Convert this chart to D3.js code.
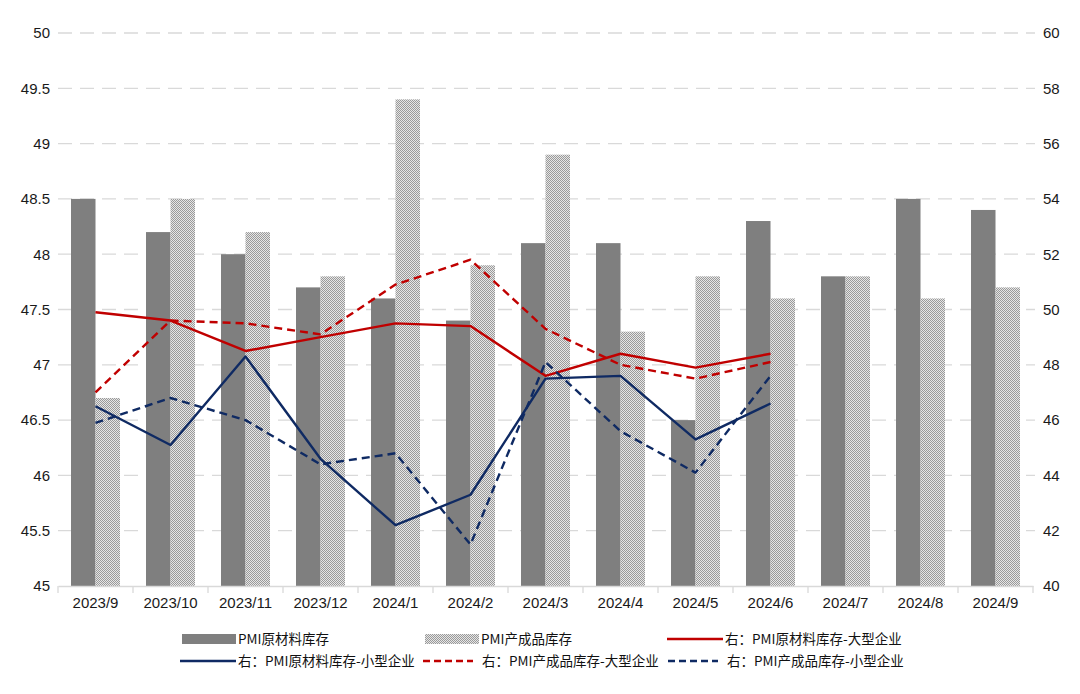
<!DOCTYPE html>
<html><head><meta charset="utf-8">
<script src="https://cdn.jsdelivr.net/npm/d3@7"></script>
<style>body{margin:0;background:#fff}svg{display:block}</style>
</head><body><svg id="c" width="1080" height="694"></svg>
<script>
const categories = ["2023/9","2023/10","2023/11","2023/12","2024/1","2024/2","2024/3","2024/4","2024/5","2024/6","2024/7","2024/8","2024/9"];
const rawMaterial = [48.5,48.2,48.0,47.7,47.6,47.4,48.1,48.1,46.5,48.3,47.8,48.5,48.4];
const finishedGoods = [46.7,48.5,48.2,47.8,49.4,47.9,48.9,47.3,47.8,47.6,47.8,47.6,47.7];
const rawLarge = [49.9,49.6,48.5,49.0,49.5,49.4,47.6,48.4,47.9,48.4];
const rawSmall = [46.5,45.1,48.3,44.6,42.2,43.3,47.5,47.6,45.3,46.6];
const finLarge = [47.0,49.6,49.5,49.1,50.9,51.8,49.3,48.0,47.5,48.1];
const finSmall = [45.9,46.8,46.0,44.4,44.8,41.5,48.1,45.6,44.1,47.6];
const leftTicks = [45,45.5,46,46.5,47,47.5,48,48.5,49,49.5,50];
const rightTicks = [40,42,44,46,48,50,52,54,56,58,60];
const legendLabels = ["PMI原材料库存","PMI产成品库存","右：PMI原材料库存-大型企业","右：PMI原材料库存-小型企业","右：PMI产成品库存-大型企业","右：PMI产成品库存-小型企业"];

const RED = "#c00000", NAVY = "#0f2a63";
const FONT = "'Liberation Sans',Arial,'Noto Sans CJK SC',sans-serif";
const CJK = "'Noto Sans CJK SC','Liberation Sans',sans-serif";
const svg = d3.select("#c");
const defs = svg.append("defs");
const pat = defs.append("pattern").attr("id","chk").attr("width",2).attr("height",2).attr("patternUnits","userSpaceOnUse");
pat.append("rect").attr("width",2).attr("height",2).attr("fill","#e6e6e6");
pat.append("rect").attr("width",1).attr("height",1).attr("fill","#9a9a9a");
pat.append("rect").attr("x",1).attr("y",1).attr("width",1).attr("height",1).attr("fill","#9a9a9a");

const x = d3.scaleBand().domain(categories).range([58,1033]).padding(0);
const x1 = d3.scaleBand().domain(["raw","fin"]).range([13, x.bandwidth()-13]).padding(0);
const yL = d3.scaleLinear().domain([45,50]).range([586,33]);
const yR = d3.scaleLinear().domain([40,60]).range([586,33]);

// gridlines
svg.append("g").selectAll("line").data(leftTicks.slice(1)).join("line")
  .attr("x1",58).attr("x2",1035).attr("y1",d=>yL(d)).attr("y2",d=>yL(d))
  .attr("stroke","#d9d9d9").attr("stroke-width",1.3).attr("stroke-dasharray","14,8");

// bars
const g = svg.append("g");
g.selectAll("rect.raw").data(rawMaterial).join("rect").attr("class","raw")
  .attr("x",(d,i)=>x(categories[i])+x1("raw")).attr("width",x1.bandwidth())
  .attr("y",d=>yL(d)).attr("height",d=>yL(45)-yL(d)).attr("fill","#7f7f7f");
g.selectAll("rect.fin").data(finishedGoods).join("rect").attr("class","fin")
  .attr("x",(d,i)=>x(categories[i])+x1("fin")).attr("width",x1.bandwidth())
  .attr("y",d=>yL(d)).attr("height",d=>yL(45)-yL(d)).attr("fill","url(#chk)");

// axes
const xAxis = svg.append("g").attr("transform","translate(0,586)")
  .call(d3.axisBottom(x).tickSize(0).tickPadding(11));
xAxis.select(".domain").attr("stroke","#d9d9d9").attr("stroke-width",1.3);
xAxis.selectAll("text").attr("font-family",FONT).attr("font-size",15).attr("fill","#1a1a1a");
svg.append("g").selectAll("line").data(categories.concat(["_end"])).join("line")
  .attr("x1",(d,i)=>58+i*x.bandwidth()).attr("x2",(d,i)=>58+i*x.bandwidth())
  .attr("y1",586).attr("y2",593).attr("stroke","#d9d9d9").attr("stroke-width",1.3);

const yAxisL = svg.append("g").attr("transform","translate(58,0)")
  .call(d3.axisLeft(yL).tickValues(leftTicks).tickSize(0).tickPadding(8).tickFormat(d3.format("")));
yAxisL.select(".domain").remove();
yAxisL.selectAll("text").attr("font-family",FONT).attr("font-size",15).attr("fill","#1a1a1a");
const yAxisR = svg.append("g").attr("transform","translate(1035,0)")
  .call(d3.axisRight(yR).tickValues(rightTicks).tickSize(0).tickPadding(8));
yAxisR.select(".domain").remove();
yAxisR.selectAll("text").attr("font-family",FONT).attr("font-size",15).attr("fill","#1a1a1a");

// lines
const cx = i => x(categories[i]) + x.bandwidth()/2;
const line = d3.line().x((d,i)=>cx(i)).y(d=>yR(d));
const series = [
  {data:rawLarge, color:RED, dash:null},
  {data:rawSmall, color:NAVY, dash:null},
  {data:finLarge, color:RED, dash:"8,5"},
  {data:finSmall, color:NAVY, dash:"8,5"}
];
series.forEach(s=>{
  svg.append("path").datum(s.data).attr("d",line).attr("fill","none")
    .attr("stroke",s.color).attr("stroke-width",2.4).attr("stroke-linejoin","round")
    .attr("stroke-dasharray",s.dash);
});

// legend
const leg = svg.append("g").attr("font-family",CJK).attr("font-size",13.5).attr("fill","#111");
const items = [
  {x:182,y:639,type:"bar",fill:"#7f7f7f",label:legendLabels[0]},
  {x:425,y:639,type:"bar",fill:"url(#chk)",label:legendLabels[1]},
  {x:667,y:639,type:"line",color:RED,dash:null,label:legendLabels[2]},
  {x:180,y:661,type:"line",color:NAVY,dash:null,label:legendLabels[3]},
  {x:423,y:661,type:"line",color:RED,dash:"7,4",label:legendLabels[4]},
  {x:668,y:661,type:"line",color:NAVY,dash:"7,4",label:legendLabels[5]}
];
items.forEach(it=>{
  let w;
  if(it.type==="bar"){
    w = 54;
    leg.append("rect").attr("x",it.x).attr("y",it.y-5).attr("width",w).attr("height",10).attr("fill",it.fill);
  } else {
    w = it.dash ? 50 : 56;
    leg.append("line").attr("x1",it.x).attr("x2",it.x+w).attr("y1",it.y).attr("y2",it.y)
      .attr("stroke",it.color).attr("stroke-width",2.6).attr("stroke-dasharray",it.dash);
  }
  const tx = it.dash ? it.x+59 : it.x+w+2;
  leg.append("text").attr("x",tx).attr("y",it.y).attr("dy","0.35em").text(it.label);
});
</script></body></html>
